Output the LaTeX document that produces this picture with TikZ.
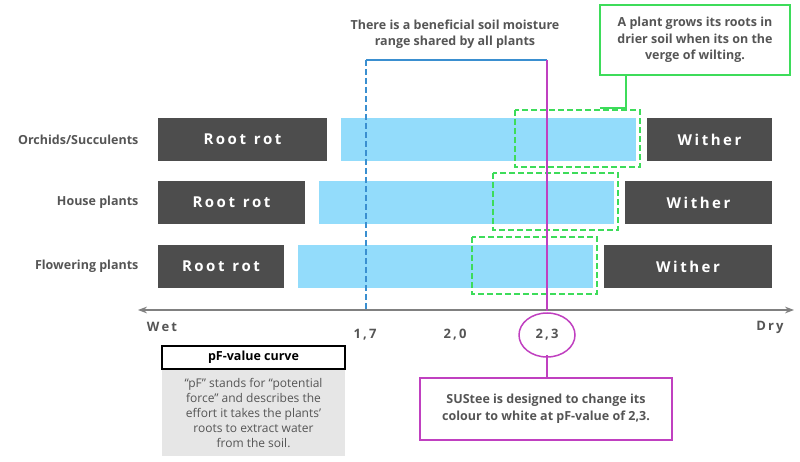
\documentclass[tikz,border=0pt]{standalone}
\usepackage{fontspec}
\setmainfont{Open Sans}
\usetikzlibrary{arrows.meta}
\definecolor{rotgray}{HTML}{4D4D4D}
\definecolor{rangeblue}{HTML}{93DCFB}
\definecolor{dashblue}{HTML}{3A8FD0}
\definecolor{wiltgreen}{HTML}{3DDC5A}
\definecolor{sustpurple}{HTML}{C040C0}
\definecolor{txtgray}{HTML}{555555}
\definecolor{notegray}{HTML}{E6E6E6}

\begin{document}
\begin{tikzpicture}[
                x=1pt, y=-1pt,
                darkbar/.style={
                    fill=rotgray,
                },
                rangebar/.style={
                    fill=rangeblue,
                },
                wiltbox/.style={
                    draw=wiltgreen, dash pattern=on 6pt off 3pt, line width=1.5pt,
                },
                plant/.style={
                    anchor=east, text=txtgray, font=\bfseries\fontsize{12.5}{15}\selectfont,
                },
                bartext/.style={
                    text=white, font=\bfseries\fontsize{15}{18}\selectfont,
                },
                tick/.style={
                    text=txtgray, font=\bfseries\fontsize{13}{16}\selectfont,
                },
                note/.style={
                    text=txtgray, font=\bfseries\fontsize{12.5}{16.5}\selectfont, align=center,
                },
            ]
            \useasboundingbox (0,0) rectangle (800,462);

            % rows
            \foreach \y/\s/\name in {118/0/Orchids\slash Succulents, 181/22/House plants, 245/43/Flowering plants}{
                \fill[darkbar] (158,\y) rectangle (327-\s,\y+43);
                \node[bartext] at ({(158+327-\s)/2},\y+21.5) {R\,o\,o\,t\ \ r\,o\,t};
                \fill[rangebar] (341-\s,\y) rectangle (636-\s,\y+43);
                \fill[darkbar] (647-\s,\y) rectangle (772,\y+43);
                \node[bartext] at ({(647-\s+772)/2},\y+21.5) {W\,i\,t\,h\,e\,r};
                \draw[wiltbox] (515-\s,\y-8) rectangle (640-\s,\y+49);
                \node[plant] at (142,\y+21.5) {\name};
            }

            % shared range
            \node[note] (range) at (455,34) {There is a beneficial soil moisture\\range shared by all plants};
            \draw[dashblue, line width=1.5pt] (366,60) -- (547,60);
            \draw[dashblue, line width=1.5pt, dash pattern=on 6pt off 3pt] (366,60) -- (366,310);

            % wilting note
            \node[draw=wiltgreen, line width=1.5pt, minimum width=190pt, minimum height=70pt, note] (wilt) at (695,40)
                {A plant grows its roots in\\drier soil when its on the\\verge of wilting.};
            \coordinate (wiltfoot) at (626,75);
            \draw[wiltgreen, line width=1.5pt] (wiltfoot) -- (626,108) -- (600,108);

            % axis
            \draw[{Stealth[length=9pt]}-{Stealth[length=9pt]}, gray, line width=1.3pt] (138,310) -- (794,310);
            \node[tick] (wet) at (162,327) {W\,e\,t};
            \node[tick] (dry) at (770,327) {D\,r\,y};
            \node[tick] (t17) at (365,335) {1\,,\,7};
            \node[tick] (t20) at (455,335) {2\,,\,0};
            \node[tick] (t23) at (547,335) {2\,,\,3};
            \draw[sustpurple, line width=1.5pt] (t23) ellipse (28pt and 22pt);

            % SUStee
            \node[draw=sustpurple, line width=1.5pt, minimum width=252pt, minimum height=62pt, note] (sust) at (546,409)
                {SUStee is designed to change its\\colour to white at pF-value of 2,3.};
            \draw[sustpurple, line width=1.5pt] (547,60) -- (547,311);
            \draw[sustpurple, line width=1.5pt] (547,355) -- (sust.north -| 547,0);

            % pF note
            \node[draw=black, line width=1.3pt, minimum width=183pt, minimum height=23pt, font=\bfseries\fontsize{12.5}{15}\selectfont] (pf) at (253.5,357.5) {pF-value curve};
            \node[fill=notegray, minimum width=183pt, minimum height=86pt, align=center, text=txtgray, font=\fontsize{12}{15}\selectfont, anchor=north] (pfnote) at (pf.south)
                {``pF'' stands for ``potential\\force'' and describes the\\effort it takes the plants'\\roots to extract water\\from the soil.};
        \end{tikzpicture}
\end{document}
